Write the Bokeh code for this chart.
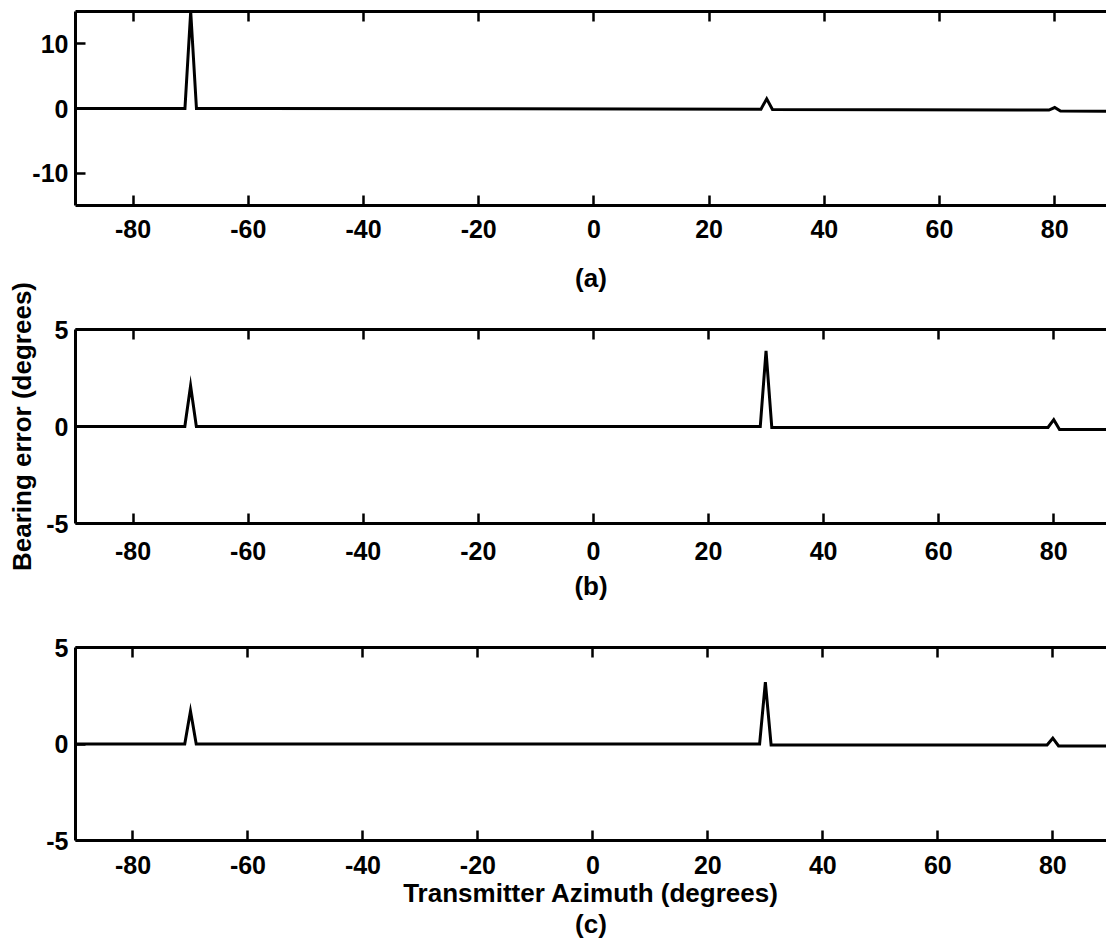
from bokeh.plotting import figure
from bokeh.layouts import column
from bokeh.models import LinearAxis, FixedTicker, Range1d
from bokeh.embed import file_html
from bokeh.resources import INLINE

# ---- data ----
azimuth = [-90, -71, -70, -69, 29, 30, 31, 79, 80, 81, 90]
error_a = [0, 0, 15, 0, -0.1, 1.5, -0.15, -0.25, 0.15, -0.4, -0.45]
error_b = [0, 0, 2.1, 0, 0, 3.9, -0.05, -0.05, 0.35, -0.15, -0.15]
error_c = [0, 0, 1.7, 0, 0, 3.2, -0.05, -0.05, 0.3, -0.1, -0.1]

x_ticks = [-80, -60, -40, -20, 0, 20, 40, 60, 80]
y_ticks_a = [-10, 0, 10]
y_ticks_bc = [-5, 0, 5]

FONT = "Liberation Sans"
TICK_SIZE = "25px"
LABEL_SIZE = "26px"
PX_PER_DEG = 5.76
WIDTH = 1106


def style_axis(ax, ticks, labels=True):
    ax.ticker = FixedTicker(ticks=ticks)
    ax.major_label_overrides = {t: str(t) for t in ticks}
    ax.axis_line_width = 3
    ax.axis_line_color = "black"
    ax.major_tick_line_width = 2.5
    ax.major_tick_line_color = "black"
    ax.major_tick_in = 10
    ax.major_tick_out = 0
    ax.minor_tick_line_color = None
    ax.major_label_text_font = FONT
    ax.major_label_text_font_style = "bold"
    ax.major_label_text_color = "black"
    ax.axis_label_text_font = FONT
    ax.axis_label_text_font_style = "bold"
    ax.axis_label_text_font_size = LABEL_SIZE
    ax.axis_label_text_color = "black"
    if labels:
        ax.major_label_text_font_size = TICK_SIZE
    else:
        ax.major_label_text_font_size = "0px"
        ax.major_label_text_color = None
        ax.major_label_standoff = 0


def make_panel(err, ylim, yticks, xlabel, ylabel, left, top, frame_h, height,
               xlabel_standoff, tick_standoff=14, title=None, ylabel_standoff=6):
    fw = WIDTH - left
    p = figure(width=WIDTH, height=height,
               x_range=Range1d(-90, -90 + fw / PX_PER_DEG),
               y_range=Range1d(ylim[0], ylim[1]),
               output_backend="svg", toolbar_location=None,
               x_axis_location=None, y_axis_location=None,
               min_border_left=left, min_border_right=0,
               min_border_top=top, min_border_bottom=height - top - frame_h)
    p.outline_line_color = None
    p.grid.visible = False
    p.background_fill_color = "white"
    p.border_fill_color = "white"

    if title:
        # the caption of the panel above; an empty second line lifts it
        p.title.text = title + "\n "
        p.title.align = "center"
        p.title.text_font = FONT
        p.title.text_font_style = "bold"
        p.title.text_font_size = LABEL_SIZE
        p.title.text_color = "black"
        p.title.text_line_height = 1.05
        p.title.standoff = 10

    bottom = LinearAxis(axis_label=xlabel)
    style_axis(bottom, x_ticks)
    bottom.major_label_standoff = tick_standoff
    bottom.axis_label_standoff = xlabel_standoff
    bottom.axis_label_text_line_height = 1.05
    p.add_layout(bottom, "below")

    topax = LinearAxis()
    style_axis(topax, x_ticks, labels=False)
    p.add_layout(topax, "above")

    lax = LinearAxis(axis_label=ylabel)
    style_axis(lax, yticks)
    lax.major_label_standoff = 7
    lax.axis_label_standoff = ylabel_standoff
    p.add_layout(lax, "left")

    p.line(azimuth, err, line_width=3, line_color="black", line_join="miter")
    return p


pa = make_panel(error_a, (-15, 15), y_ticks_a, None, None,
                left=75, top=11, frame_h=194, height=252, xlabel_standoff=18)
pb = make_panel(error_b, (-5, 5), y_ticks_bc, "(b)", "Bearing error (degrees)",
                left=74, top=77, frame_h=194, height=368, xlabel_standoff=8,
                tick_standoff=18, title="(a)")
pc = make_panel(error_c, (-5, 5), y_ticks_bc,
                "Transmitter Azimuth (degrees)\n(c)", None,
                left=73, top=27, frame_h=193, height=326, xlabel_standoff=1,
                tick_standoff=15)

layout = column(pa, pb, pc, spacing=0)
open("out.html", "w").write(file_html(layout, INLINE))
